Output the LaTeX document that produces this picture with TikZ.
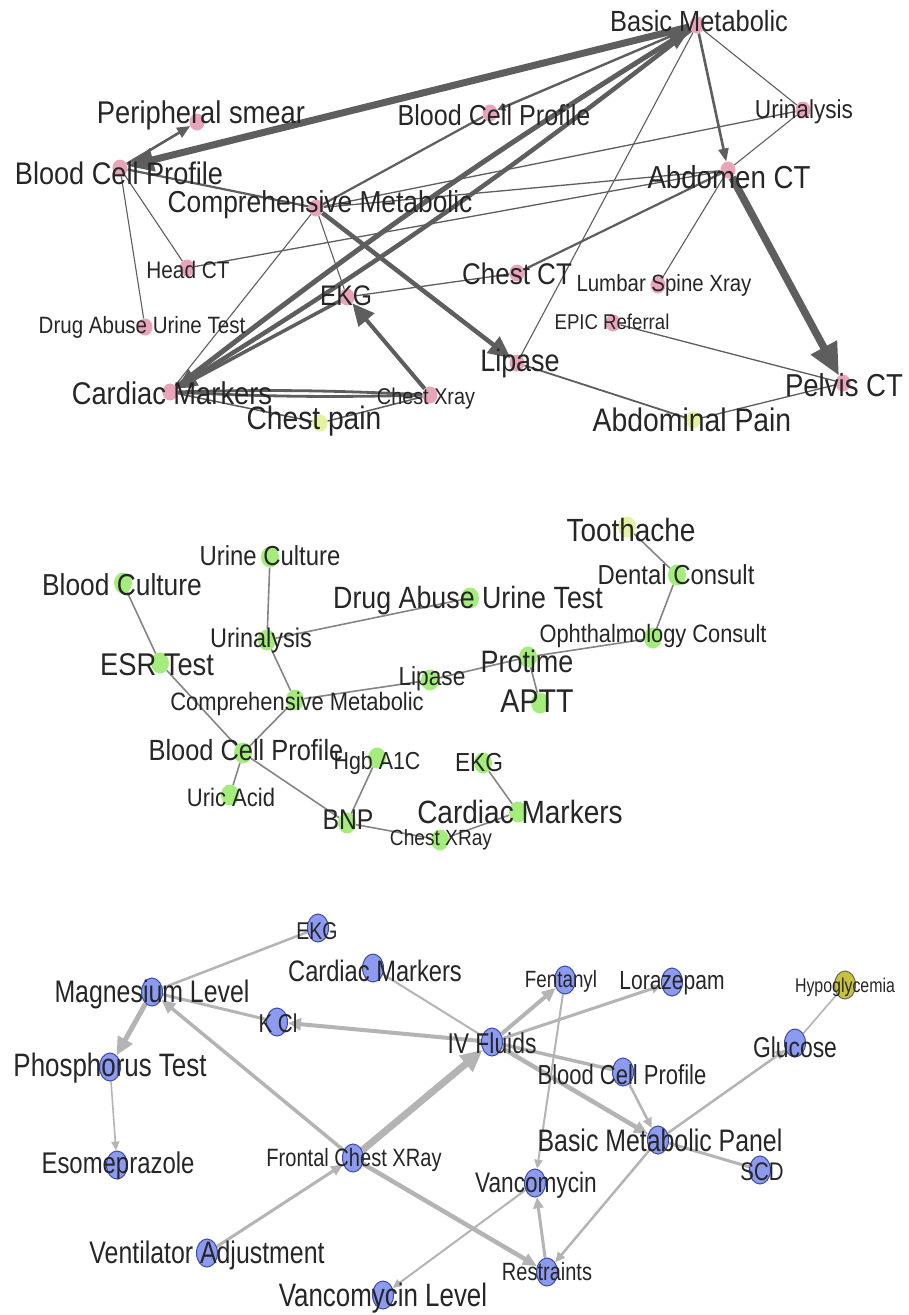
\documentclass[tikz,border=0pt]{standalone}
\usepackage{fontspec}
\setmainfont{Liberation Sans}
\newfontfamily\lfa[FakeStretch=0.87]{Liberation Sans}
\newfontfamily\lfb[FakeStretch=0.80]{Liberation Sans}
\usetikzlibrary{arrows.meta,shapes.geometric}
\pgfdeclarelayer{bg}
\pgfsetlayers{bg,main}
\definecolor{txt}{HTML}{262626}
\definecolor{pk}{HTML}{E9A5B8}
\definecolor{gn}{HTML}{A4EC7C}
\definecolor{yl}{HTML}{E6F2A2}
\definecolor{bl}{HTML}{8C9AF0}
\definecolor{bld}{HTML}{3A4AAA}
\definecolor{hy}{HTML}{C9C23E}
\definecolor{cA}{HTML}{5E5E5E}
\definecolor{cB}{HTML}{858585}
\definecolor{cC}{HTML}{B4B4B4}
\newcommand\labA[5]{\node[lab,font=\lfa\fontsize{#4}{#4}\selectfont] (#1) at (#2,{#3+0.358*#4}) {#5};}
\newcommand\labB[5]{\node[lab,font=\lfb\fontsize{#4}{#4}\selectfont] (#1) at (#2,{#3+0.358*#4}) {#5};}
\tikzset{
 lab/.style={anchor=base,inner sep=0pt,text=txt},
 dA/.style={ellipse,inner sep=0pt,minimum width=15pt,minimum height=17pt,fill=pk,draw=none},
 dAy/.style={dA,fill=yl},
 dB/.style={ellipse,inner sep=0pt,minimum width=18pt,minimum height=21pt,fill=gn,draw=none},
 dBy/.style={dB,fill=yl},
 dC/.style={ellipse,inner sep=0pt,minimum width=21pt,minimum height=28pt,fill=bl,draw=bld,line width=1pt},
 dCy/.style={dC,fill=hy,draw=black!60},
 eA/.style={draw=cA,line width=#1},
 eB/.style={draw=cB,line width=1.6pt},
 eC/.style={draw=cC,line width=#1}
}
\begin{document}
\begin{tikzpicture}[x=1pt,y=-1pt]
\useasboundingbox (0,0) rectangle (908,1315);
% ---------- panel 1 dots ----------
\node[dA] (p1bm) at (697,25) {};
\node[dA] (p1ps) at (197,122) {};
\node[dA] (p1bcl) at (120,168) {};
\node[dA] (p1bcm) at (490,113) {};
\node[dA] (p1ua) at (803,110) {};
\node[dA] (p1act) at (728,170) {};
\node[dA] (p1cm) at (316,208) {};
\node[dA] (p1hct) at (187,268) {};
\node[dA] (p1da) at (145,327) {};
\node[dA] (p1ekg) at (347,297) {};
\node[dA] (p1cct) at (517,273) {};
\node[dA] (p1ls) at (658,285) {};
\node[dA] (p1epic) at (613,323) {};
\node[dA] (p1lip) at (517,363) {};
\node[dA] (p1pct) at (843,383) {};
\node[dAy] (p1ap) at (693,420) {};
\node[dA] (p1card) at (170,392) {};
\node[dA] (p1cx) at (430,395) {};
\node[dAy] (p1cp) at (320,423) {};
% ---------- panel 2 dots ----------
\node[dBy] (p2th) at (627,527) {};
\node[dB] (p2dc) at (677,575) {};
\node[dB] (p2oc) at (653,638) {};
\node[dB] (p2pt) at (528,657) {};
\node[dB] (p2aptt) at (540,703) {};
\node[dB] (p2da) at (470,598) {};
\node[dB] (p2uc) at (270,557) {};
\node[dB] (p2bc) at (123,583) {};
\node[dB] (p2ua) at (267,640) {};
\node[dB] (p2esr) at (160,663) {};
\node[dB] (p2lip) at (430,680) {};
\node[dB] (p2cm) at (295,700) {};
\node[dB] (p2bcp) at (243,753) {};
\node[dB] (p2hgb) at (377,758) {};
\node[dB] (p2uric) at (230,795) {};
\node[dB] (p2bnp) at (347,823) {};
\node[dB] (p2cx) at (440,840) {};
\node[dB] (p2ekg) at (483,763) {};
\node[dB] (p2card) at (518,812) {};
% ---------- panel 3 dots ----------
\node[dC] (p3ekg) at (318,928) {};
\node[dC] (p3card) at (373,968) {};
\node[dC] (p3mg) at (152,992) {};
\node[dC] (p3kcl) at (277,1022) {};
\node[dC] (p3ph) at (110,1067) {};
\node[dC] (p3eso) at (117,1165) {};
\node[dC] (p3fcx) at (353,1158) {};
\node[dC] (p3va) at (207,1253) {};
\node[dC] (p3vl) at (383,1295) {};
\node[dC] (p3iv) at (492,1042) {};
\node[dC] (p3fen) at (565,980) {};
\node[dC] (p3lor) at (672,982) {};
\node[dCy] (p3hypo) at (845,985) {};
\node[dC] (p3glu) at (795,1043) {};
\node[dC] (p3bcp) at (623,1072) {};
\node[dC] (p3bmp) at (658,1140) {};
\node[dC] (p3scd) at (760,1170) {};
\node[dC] (p3van) at (535,1183) {};
\node[dC] (p3res) at (547,1272) {};
% ---------- labels ----------
\labA{t1bm}{699}{21}{29.2}{Basic Metabolic}
\labA{t1ps}{201}{112}{31.4}{Peripheral smear}
\labA{t1bcl}{119}{173}{31.2}{Blood Cell Profile}
\labA{t1bcm}{494}{115}{28.9}{Blood Cell Profile}
\labA{t1ua}{804}{109}{26}{Urinalysis}
\labA{t1act}{729}{177}{31.8}{Abdomen CT}
\labA{t1cm}{320}{202}{30.3}{Comprehensive Metabolic}
\labA{t1hct}{188}{270}{23.9}{Head CT}
\labA{t1da}{142}{325}{23.6}{Drug Abuse Urine Test}
\labA{t1ekg}{346}{295}{28.3}{EKG}
\labA{t1cct}{517}{274}{29.9}{Chest CT}
\labA{t1ls}{664}{283}{23.5}{Lumbar Spine Xray}
\labA{t1epic}{612}{322}{21.4}{EPIC Referral}
\labA{t1lip}{520}{360}{31}{Lipase}
\labA{t1pct}{844}{385}{31.7}{Pelvis CT}
\labA{t1ap}{692}{420}{32.6}{Abdominal Pain}
\labA{t1card}{172}{393}{31.4}{Cardiac Markers}
\labA{t1cx}{426}{396}{22.8}{Chest Xray}
\labA{t1cp}{314}{418}{32.4}{Chest pain}
%
\labA{t2th}{631}{530}{32.1}{Toothache}
\labA{t2dc}{676}{575}{27.5}{Dental Consult}
\labA{t2oc}{653}{634}{25.1}{Ophthalmology Consult}
\labA{t2pt}{527}{661}{31}{Protime}
\labA{t2aptt}{537}{701}{32.9}{APTT}
\labA{t2da}{468}{597}{30.8}{Drug Abuse Urine Test}
\labA{t2uc}{270}{556}{27.5}{Urine Culture}
\labA{t2bc}{122}{585}{30.3}{Blood Culture}
\labA{t2ua}{261}{638}{27}{Urinalysis}
\labA{t2esr}{157}{664}{31.4}{ESR Test}
\labA{t2lip}{432}{676}{26.1}{Lipase}
\labA{t2cm}{297}{701}{25.2}{Comprehensive Metabolic}
\labA{t2bcp}{246}{750}{29.2}{Blood Cell Profile}
\labA{t2hgb}{377}{761}{24.6}{Hgb A1C}
\labA{t2uric}{231}{797}{25.3}{Uric Acid}
\labA{t2bnp}{348}{819}{28.5}{BNP}
\labA{t2cx}{441}{838}{22}{Chest XRay}
\labA{t2ekg}{479}{762}{26.1}{EKG}
\labA{t2card}{520}{812}{32.2}{Cardiac Markers}
%
\labB{t3ekg}{317}{931}{24.3}{EKG}
\labB{t3card}{375}{971}{29.6}{Cardiac Markers}
\labB{t3mg}{152}{991}{31.1}{Magnesium Level}
\labB{t3kcl}{278}{1023}{25.8}{K Cl}
\labB{t3ph}{110}{1065}{32.4}{Phosphorus Test}
\labB{t3eso}{118}{1163}{29.9}{Esomeprazole}
\labB{t3fcx}{354}{1157}{25.1}{Frontal Chest XRay}
\labB{t3va}{207}{1252}{31.1}{Ventilator Adjustment}
\labB{t3vl}{383}{1295}{32.4}{Vancomycin Level}
\labB{t3iv}{492}{1043}{28.6}{IV Fluids}
\labB{t3fen}{561}{979}{23.5}{Fentanyl}
\labB{t3lor}{672}{980}{26.3}{Lorazepam}
\labB{t3hypo}{845}{985}{19.9}{Hypoglycemia}
\labB{t3glu}{795}{1047}{28.6}{Glucose}
\labB{t3bcp}{622}{1075}{27.5}{Blood Cell Profile}
\labB{t3bmp}{660}{1140}{31.1}{Basic Metabolic Panel}
\labB{t3scd}{762}{1171}{25.5}{SCD}
\labB{t3van}{536}{1182}{28.3}{Vancomycin}
\labB{t3res}{547}{1272}{25}{Restraints}
% ---------- edges ----------
\begin{pgfonlayer}{bg}
\fill[white] (0,0) rectangle (908,1315);
% panel 1
\draw[eA=2.6pt,-{Triangle[length=13pt,width=11pt]}] (p1bcl) -- (p1ps);
\draw[eA=7pt,-{Triangle[length=26pt,width=22pt]}] (p1bm) -- (p1bcl);
\draw[eA=5pt,-{Triangle[length=22pt,width=18pt]}] (p1card) to[bend left=3] (p1bm);
\draw[eA=4.5pt,-{Triangle[length=20pt,width=18pt]}] (p1bm) to[bend left=3] (p1card);
\draw[eA=3.5pt,-{Triangle[length=16pt,width=14pt]}] (p1ekg) -- (p1card);
\draw[eA=4pt,-{Triangle[length=22pt,width=20pt]}] (p1cx) -- (p1ekg);
\draw[eA=2.8pt] (p1card) to[bend left=2] (p1cx);
\draw[eA=2.8pt] (p1cx) to[bend left=2] (p1card);
\draw[eA=1.5pt] (p1card) -- (p1cp);
\draw[eA=1.5pt] (p1cp) -- (p1cx);
\draw[eA=4.5pt,-{Triangle[length=22pt,width=20pt]}] (p1cm) -- (p1lip);
\draw[eA=2.6pt,-{Triangle[length=13pt,width=10pt]}] (p1bm) -- (p1act);
\draw[eA=7.5pt,-{Triangle[length=32pt,width=28pt]}] (p1act) -- (p1pct);
\draw[eA=1.1pt] (p1bm) -- (p1ua);
\draw[eA=1.1pt] (p1bm) -- (p1lip);
\draw[eA=2.4pt,-{Triangle[length=8pt,width=8pt]}] (p1bm) -- (p1bcm);
\draw[eA=1.3pt] (p1ua) -- (p1cm);
\draw[eA=1.1pt] (p1ua) -- (p1act);
\draw[eA=1.3pt] (p1act) -- (p1cm);
\draw[eA=1.3pt] (p1act) -- (p1hct);
\draw[eA=2.2pt] (p1act) -- (p1cct);
\draw[eA=1.1pt] (p1act) -- (p1ls);
\draw[eA=1.3pt] (p1cct) -- (p1ekg);
\draw[eA=1.1pt] (p1cm) -- (p1ekg);
\draw[eA=1.1pt] (p1cm) -- (p1card);
\draw[eA=2.2pt] (p1cm) -- (p1bcm);
\draw[eA=1.1pt] (p1bcl) -- (p1hct);
\draw[eA=1.1pt] (p1bcl) -- (p1da);
\draw[eA=2.2pt] (p1bcl) -- (p1cm);
\draw[eA=1.3pt] (p1epic) -- (p1pct);
\draw[eA=1.8pt] (p1lip) -- (p1ap);
\draw[eA=1.3pt] (p1ap) -- (p1pct);
% panel 2
\draw[eB] (p2th) -- (p2dc);
\draw[eB] (p2dc) -- (p2oc);
\draw[eB] (p2oc) -- (p2pt);
\draw[eB] (p2pt) -- (p2lip);
\draw[eB] (p2pt) -- (p2aptt);
\draw[eB] (p2lip) -- (p2cm);
\draw[eB] (p2da) -- (p2ua);
\draw[eB] (p2uc) -- (p2ua);
\draw[eB] (p2ua) -- (p2cm);
\draw[eB] (p2bc) -- (p2esr);
\draw[eB] (p2esr) -- (p2bcp);
\draw[eB] (p2cm) -- (p2bcp);
\draw[eB] (p2bcp) -- (p2uric);
\draw[eB] (p2bcp) -- (p2bnp);
\draw[eB] (p2bnp) -- (p2hgb);
\draw[eB] (p2bnp) -- (p2cx);
\draw[eB] (p2cx) -- (p2card);
\draw[eB] (p2ekg) -- (p2card);
% panel 3
\draw[eC=2.5pt] (p3mg) -- (p3ekg);
\draw[eC=5pt,-{Triangle[length=18pt,width=16pt]}] (p3mg) -- (p3ph);
\draw[eC=1.6pt,-{Triangle[length=9pt,width=8pt]}] (p3ph) -- (p3eso);
\draw[eC=3pt] (p3kcl) -- (p3mg);
\draw[eC=4pt,-{Triangle[length=13pt,width=12pt]}] (p3iv) -- (p3kcl);
\draw[eC=3.5pt,-{Triangle[length=14pt,width=12pt]}] (p3fcx) -- (p3mg);
\draw[eC=7pt,-{Triangle[length=22pt,width=20pt]}] (p3fcx) -- (p3iv);
\draw[eC=3pt,-{Triangle[length=12pt,width=10pt]}] (p3va) -- (p3fcx);
\draw[eC=4.5pt,-{Triangle[length=14pt,width=12pt]}] (p3fcx) -- (p3res);
\draw[eC=2pt] (p3card) -- (p3iv);
\draw[eC=4pt,-{Triangle[length=14pt,width=12pt]}] (p3iv) -- (p3fen);
\draw[eC=3pt,-{Triangle[length=10pt,width=9pt]}] (p3iv) -- (p3lor);
\draw[eC=3.5pt] (p3iv) -- (p3bcp);
\draw[eC=4.5pt,-{Triangle[length=14pt,width=12pt]}] (p3iv) -- (p3bmp);
\draw[eC=2.5pt,-{Triangle[length=10pt,width=9pt]}] (p3bcp) -- (p3bmp);
\draw[eC=2pt,-{Triangle[length=9pt,width=8pt]}] (p3fen) -- (p3van);
\draw[eC=2.5pt,-{Triangle[length=10pt,width=9pt]}] (p3bmp) -- (p3glu);
\draw[eC=1.6pt] (p3hypo) -- (p3glu);
\draw[eC=3pt] (p3bmp) -- (p3scd);
\draw[eC=2.5pt,-{Triangle[length=10pt,width=9pt]}] (p3bmp) -- (p3res);
\draw[eC=3pt,-{Triangle[length=11pt,width=10pt]}] (p3res) -- (p3van);
\draw[eC=2pt,-{Triangle[length=9pt,width=8pt]}] (p3van) -- (p3vl);
\end{pgfonlayer}
\end{tikzpicture}
\end{document}
